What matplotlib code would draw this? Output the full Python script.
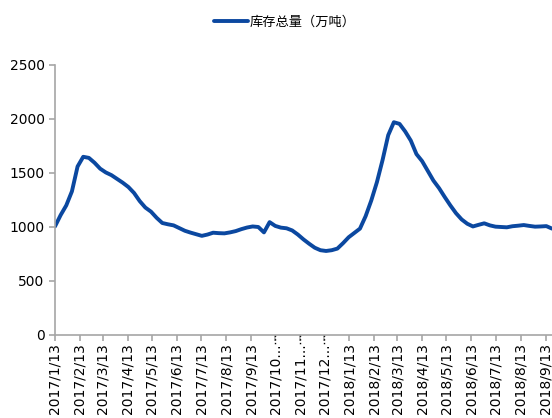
import numpy as np
import pandas as pd
import matplotlib
matplotlib.use('Agg')
import matplotlib.pyplot as plt

plt.rcParams['font.family'] = ['DejaVu Sans', 'Noto Sans CJK SC']

# weekly inventory, 10k tonnes
dates = pd.date_range('2017-01-13', periods=89, freq='7D')
stock = [1005, 1110, 1200, 1330, 1560, 1650, 1640, 1595, 1540, 1505,
         1480, 1445, 1410, 1370, 1315, 1240, 1180, 1142, 1085, 1037,
         1025, 1015, 990, 965, 948, 933, 918, 930, 947, 943,
         941, 950, 962, 980, 995, 1005, 1000, 950, 1045, 1010,
         994, 988, 968, 930, 885, 845, 808, 785, 778, 785,
         800, 850, 905, 945, 985, 1100, 1245, 1415, 1620, 1850,
         1970, 1955, 1885, 1800, 1675, 1610, 1520, 1430, 1360, 1278,
         1200, 1128, 1070, 1030, 1005, 1020, 1034, 1015, 1003, 1000,
         997, 1007, 1012, 1018, 1010, 1003, 1005, 1008, 985]

tick_dates = pd.date_range('2017-01-01', periods=21, freq='MS') + pd.Timedelta(days=12)
tick_labels = ['2017/1/13', '2017/2/13', '2017/3/13', '2017/4/13', '2017/5/13',
               '2017/6/13', '2017/7/13', '2017/8/13', '2017/9/13', '2017/10...',
               '2017/11...', '2017/12...', '2018/1/13', '2018/2/13', '2018/3/13',
               '2018/4/13', '2018/5/13', '2018/6/13', '2018/7/13', '2018/8/13',
               '2018/9/13']
truncated = [9, 10, 11]

fig = plt.figure(figsize=(5.52, 4.18), dpi=100)
ax = fig.add_axes([0.0996, 0.1986, 0.9004, 0.6459])

ax.plot(dates, stock, color='#0B48A0', linewidth=2.8, label='库存总量（万吨）',
        solid_capstyle='round', solid_joinstyle='round')

# dotted tick marks under the truncated labels
for i in truncated:
    ax.plot([tick_dates[i], tick_dates[i]], [0, -0.04], transform=ax.get_xaxis_transform(),
            color='black', linestyle=':', linewidth=1.0, clip_on=False, scalex=False, scaley=False)

ax.set_xlim(dates[0], dates[-1])
ax.set_ylim(0, 2500)
ax.set_yticks([0, 500, 1000, 1500, 2000, 2500])
ax.set_xticks(tick_dates)
ax.set_xticklabels(tick_labels, rotation=90)

for s in ['top', 'right']:
    ax.spines[s].set_visible(False)
for s in ['left', 'bottom']:
    ax.spines[s].set_color('#A6A6A6')
    ax.spines[s].set_linewidth(1.2)
ax.tick_params(axis='both', colors='#A6A6A6', labelcolor='black', labelsize=10,
               length=4, width=1.2, direction='out')
ax.tick_params(axis='x', pad=2)

leg = fig.legend(loc='upper center', bbox_to_anchor=(0.516, 0.99), frameon=False,
                 prop={'family': 'Noto Sans CJK SC', 'size': 9.5},
                 handlelength=2.6, handletextpad=0.15)

fig.savefig('out.png', dpi=100)
